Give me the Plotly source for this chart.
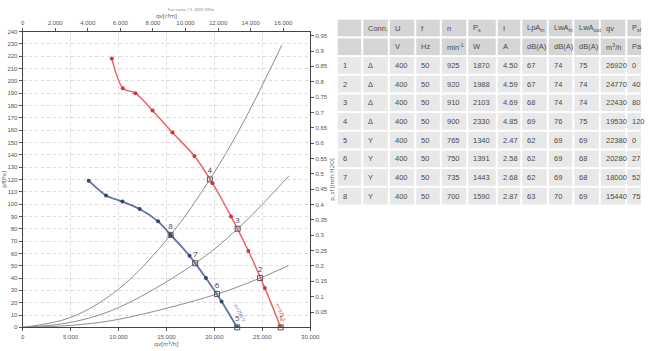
import plotly.graph_objects as go

# ---------------- data ----------------
# Fan curve, delta connection (red)
red_qv = [9300, 10450, 11770, 13550, 15630, 17920, 19800, 21740, 23550, 25260, 26920]
red_pf = [218, 194, 190, 176, 158, 139, 117, 90, 62, 32, 0]
# Fan curve, star connection (blue)
blue_qv = [6890, 8700, 10410, 12210, 14130, 15440, 17410, 19120, 20750, 22380]
blue_pf = [119, 107, 102, 96, 86, 75, 58, 40, 21, 0]
# System curves (grey)
sysA_qv = [0, 5000, 10000, 15440, 19530, 23000, 27040]
sysA_pf = [0, 8, 31, 75, 120, 166, 229]
sysB_qv = [0, 5000, 10000, 18000, 22430, 27800]
sysB_pf = [0, 4, 16, 52, 80, 123]
sysC_qv = [0, 5000, 10000, 20280, 24770, 27700]
sysC_pf = [0, 1.6, 6.5, 27, 40, 50]
# Operating points
op_labels = ["1", "2", "3", "4", "5", "6", "7", "8"]
op_qv = [26920, 24770, 22430, 19530, 22380, 20280, 18000, 15440]
op_pf = [0, 40, 80, 120, 0, 27, 52, 75]

# Axis ticks
x_ticks = [0, 5000, 10000, 15000, 20000, 25000, 30000]
x_ticktext = ["0", "5.000", "10.000", "15.000", "20.000", "25.000", "30.000"]
x2_ticks = [0, 2000, 4000, 6000, 8000, 10000, 12000, 14000, 16000]
x2_ticktext = ["0", "2.000", "4.000", "6.000", "8.000", "10.000", "12.000", "14.000", "16.000"]
y_ticks = list(range(0, 241, 10))
y2_ticks = [0.05, 0.1, 0.15, 0.2, 0.25, 0.3, 0.35, 0.4, 0.45, 0.5, 0.55, 0.6,
            0.65, 0.7, 0.75, 0.8, 0.85, 0.9, 0.95]
y2_ticktext = ["0.05", "0.1", "0.15", "0.2", "0.25", "0.3", "0.35", "0.4", "0.45", "0.5",
               "0.55", "0.6", "0.65", "0.7", "0.75", "0.8", "0.85", "0.9", "0.95"]

# Table
tbl_header = ["", "Conn.", "U", "f", "n", "P<sub>s</sub>", "I", "LpA<sub>in</sub>",
              "LwA<sub>in</sub>", "LwA<sub>out</sub>", "qv", "P<sub>sf</sub>"]
tbl_units = ["", "", "V", "Hz", "min<sup>-1</sup>", "W", "A", "dB(A)", "dB(A)", "dB(A)",
             "m<sup>3</sup>/h", "Pa"]
col_no = ["1", "2", "3", "4", "5", "6", "7", "8"]
col_conn = ["Δ", "Δ", "Δ", "Δ", "Y", "Y", "Y", "Y"]
col_u = ["400"] * 8
col_f = ["50"] * 8
col_n = ["925", "920", "910", "900", "765", "750", "735", "700"]
col_ps = ["1870", "1988", "2103", "2330", "1340", "1391", "1443", "1590"]
col_i = ["4.50", "4.59", "4.69", "4.85", "2.47", "2.58", "2.68", "2.87"]
col_lpa = ["67", "67", "68", "69", "62", "62", "62", "63"]
col_lwa_in = ["74", "74", "74", "76", "69", "69", "69", "70"]
col_lwa_out = ["75", "74", "74", "75", "69", "68", "68", "69"]
col_qv = ["26920", "24770", "22430", "19530", "22380", "20280", "18000", "15440"]
col_psf = ["0", "40", "80", "120", "0", "27", "52", "75"]

# ---------------- figure ----------------
W, H = 653, 351
px_l, px_r, px_t, px_b = 21, 314, 29, 330
xdom = [px_l / W, px_r / W]
ydom = [(H - px_b) / H, (H - px_t) / H]

fig = go.Figure()
grey = "#8c8c8c"
for qv, pf in [(sysA_qv, sysA_pf), (sysB_qv, sysB_pf), (sysC_qv, sysC_pf)]:
    fig.add_trace(go.Scatter(x=qv, y=pf, mode="lines", line=dict(color=grey, width=1, shape="spline"),
                             hoverinfo="skip", showlegend=False))

fig.add_trace(go.Scatter(x=red_qv, y=red_pf, mode="lines+markers",
                         line=dict(color="#e8656a", width=1.5, shape="spline", smoothing=0.8),
                         marker=dict(color="#c83a40", size=4), showlegend=False))
fig.add_trace(go.Scatter(x=blue_qv, y=blue_pf, mode="lines+markers",
                         line=dict(color="#62739e", width=1.8, shape="spline", smoothing=0.8),
                         marker=dict(color="#34457a", size=4), showlegend=False))
fig.add_trace(go.Scatter(x=op_qv, y=op_pf, mode="markers+text", text=op_labels,
                         textposition="top center", textfont=dict(size=8, color="#444"),
                         marker=dict(symbol="square-open", size=5, color="#555", line=dict(width=1)),
                         showlegend=False, cliponaxis=False))
# empty trace so the secondary (top / right) axes are rendered
fig.add_trace(go.Scatter(x=[], y=[], xaxis="x2", yaxis="y2", showlegend=False, hoverinfo="skip"))

tickfont = dict(size=6, color="#555", family="Liberation Sans, Arial, sans-serif")
fig.update_layout(
    width=W, height=H, margin=dict(l=0, r=0, t=0, b=0),
    paper_bgcolor="white", plot_bgcolor="white",
    xaxis=dict(domain=xdom, range=[0, 30000], tickvals=x_ticks, ticktext=x_ticktext,
               tickfont=tickfont, ticks="outside", ticklen=3, tickcolor="#555",
               showgrid=True, gridcolor="#dadada", griddash="dot", gridwidth=1,
               showline=True, linecolor="#444", linewidth=1, mirror=True, zeroline=False,
               title=dict(text="qv[m³/h]", font=dict(size=6, color="#555"), standoff=0)),
    xaxis2=dict(overlaying="x", side="top", range=[0, 30000 / 1.699], tickvals=x2_ticks,
                ticktext=x2_ticktext, tickfont=tickfont, ticks="outside", ticklen=3,
                tickcolor="#555", showgrid=False, zeroline=False, anchor="y2",
                title=dict(text="qv[cfm]", font=dict(size=6, color="#555"), standoff=0)),
    yaxis=dict(domain=ydom, range=[0, 240], tickvals=y_ticks, tickfont=tickfont,
               ticks="outside", ticklen=3, tickcolor="#555",
               showgrid=True, gridcolor="#dadada", griddash="dot", gridwidth=1,
               showline=True, linecolor="#444", linewidth=1, mirror=True, zeroline=False,
               title=dict(text="pf[Pa]", font=dict(size=6, color="#555"), standoff=2)),
    yaxis2=dict(overlaying="y", side="right", range=[0, 240 / 249.09], tickvals=y2_ticks,
                ticktext=y2_ticktext, tickfont=tickfont, ticks="outside", ticklen=3,
                tickcolor="#555", showgrid=False, zeroline=False, anchor="x2",
                title=dict(text="p_sf [inch H2O]", font=dict(size=6, color="#555"), standoff=2)),
)

# tiny chart title above top axis
fig.add_annotation(x=(xdom[0] + xdom[1]) / 2, y=(H - 7) / H, xref="paper", yref="paper",
                   text="Fan curve / 3~400V 50Hz", showarrow=False, yanchor="middle",
                   font=dict(size=4, color="#777"))
# curve labels along the fan curves
fig.add_annotation(x=22700, y=12, xref="x", yref="y", text="n=700 Y", textangle=62,
                   showarrow=False, font=dict(size=5, color="#4a5f9a"))
fig.add_annotation(x=27050, y=12, xref="x", yref="y", text="n=925 Δ", textangle=66,
                   showarrow=False, font=dict(size=5, color="#d9474c"))

# ---------------- table (drawn with shapes + text) ----------------
cols = [col_no, col_conn, col_u, col_f, col_n, col_ps, col_i, col_lpa,
        col_lwa_in, col_lwa_out, col_qv, col_psf]
table_rows = [tbl_header, tbl_units] + [[c[i] for c in cols] for i in range(8)]
col_edges = [342, 368, 395, 422, 448, 475, 505, 530, 557, 583, 610, 637, 653]
row_top, row_h = 17, 19
tfont = dict(size=7.5, color="#4a4a4a", family="Liberation Sans, Arial, sans-serif")

def pxx(v):
    return v / W

def pxy(v):
    return (H - v) / H

for r, row in enumerate(table_rows):
    y0 = row_top + r * row_h
    fill = "#d5d5d5" if r < 2 else "#e8e8e8"
    for c, txt in enumerate(row):
        x0, x1 = col_edges[c], col_edges[c + 1]
        fig.add_shape(type="rect", xref="paper", yref="paper",
                      x0=pxx(x0), x1=pxx(x1 - 2), y0=pxy(y0), y1=pxy(y0 + row_h - 2),
                      fillcolor=fill, line=dict(width=0), layer="below")
        if txt:
            fig.add_annotation(x=pxx(x0 + 3), y=pxy(y0 + (row_h - 2) / 2), xref="paper", yref="paper",
                               text=txt, showarrow=False, xanchor="left", yanchor="middle",
                               font=tfont)

fig.write_html("out.html")
